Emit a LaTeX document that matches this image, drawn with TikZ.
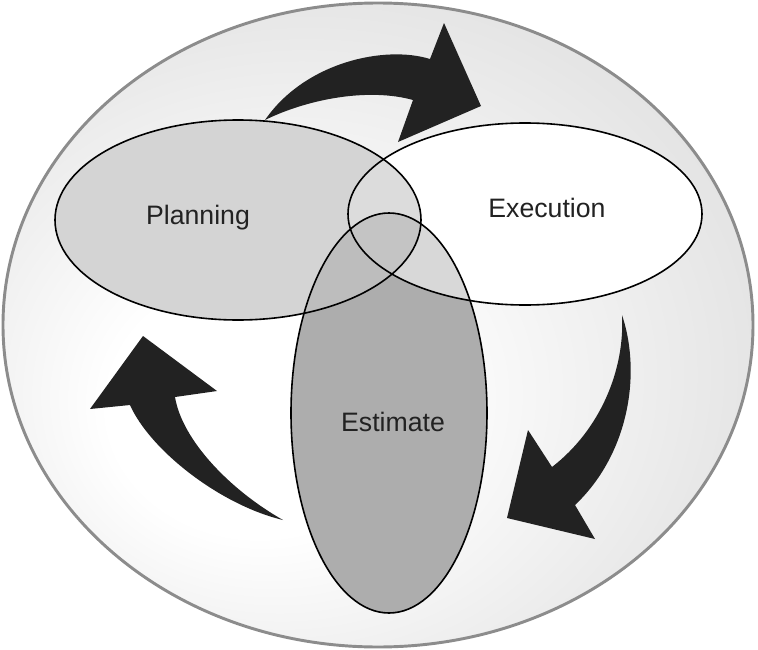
\documentclass[tikz,border=0pt]{standalone}
\usepackage{fontspec}
\setmainfont{Liberation Sans}
\usetikzlibrary{shapes.geometric}
\definecolor{rim}{HTML}{8C8C8C}
\definecolor{ink}{HTML}{222222}
\definecolor{planfill}{HTML}{D4D4D4}
\definecolor{estfill}{HTML}{ADADAD}
\definecolor{planexec}{HTML}{DCDCDC}
\definecolor{planest}{HTML}{BDBDBD}
\definecolor{execest}{HTML}{D8D8D8}
\definecolor{allthree}{HTML}{C4C4C4}
\pgfdeclareradialshading{globe}{\pgfpoint{-10bp}{-8bp}}{color(0bp)=(white); color(10bp)=(white); color(50bp)=(black!21)}
\tikzset{
  planarea/.style={insert path={(238,220) ellipse [x radius=183, y radius=100]}},
  execarea/.style={insert path={(525,214) ellipse [x radius=177, y radius=91]}},
  estarea/.style={insert path={(389,413) ellipse [x radius=98, y radius=200]}},
  ring/.style={ellipse, draw=black, line width=1.2pt, inner sep=0pt},
  tag/.style={text=ink, font=\fontsize{20}{24}\selectfont},
  cyclearrow/.style={fill=ink}
}
\begin{document}
\begin{tikzpicture}[x=0.75pt,y=-0.75pt]
      \useasboundingbox (0,0) rectangle (758,650);
      \shade[shading=globe] (378,325) ellipse [x radius=375, y radius=322];
      \draw[rim, line width=2.2pt] (378,325) ellipse [x radius=375, y radius=322];
      \fill[cyclearrow] (265,120) .. controls (305,62) and (385,45) .. (430,59)
        -- (444,23) -- (481,106) -- (398,142) -- (413,100)
        .. controls (370,88) and (310,98) .. (265,120) -- cycle;
      \fill[cyclearrow] (622,315) .. controls (642,375) and (628,455) .. (575,505)
        -- (595,539) -- (507,518) -- (528,430) -- (552,467)
        .. controls (600,430) and (625,370) .. (622,315) -- cycle;
      \fill[cyclearrow] (283,520) .. controls (220,505) and (150,450) .. (130,405)
        -- (90,409) -- (143,336) -- (217,391) -- (175,397)
        .. controls (182,440) and (230,490) .. (283,520) -- cycle;
      \fill[planfill] [planarea];
      \fill[white] [execarea];
      \fill[estfill] [estarea];
      \begin{scope}
        \clip [execarea];
        \fill[execest] [estarea];
      \end{scope}
      \begin{scope}
        \clip [planarea];
        \fill[planexec] [execarea];
        \fill[planest] [estarea];
        \clip [execarea];
        \fill[allthree] [estarea];
      \end{scope}
      \node[ring, minimum width=274.5pt, minimum height=150pt] (plan) at (238,220) {};
      \node[ring, minimum width=265.5pt, minimum height=136.5pt] (exec) at (525,214) {};
      \node[ring, minimum width=147pt, minimum height=300pt] (est) at (389,413) {};
      \node[tag] (planlabel) at (198,218) {Planning};
      \node[tag] (execlabel) at (547,208) {Execution};
      \node[tag] (estlabel) at (393,422) {Estimate};
    \end{tikzpicture}
\end{document}
